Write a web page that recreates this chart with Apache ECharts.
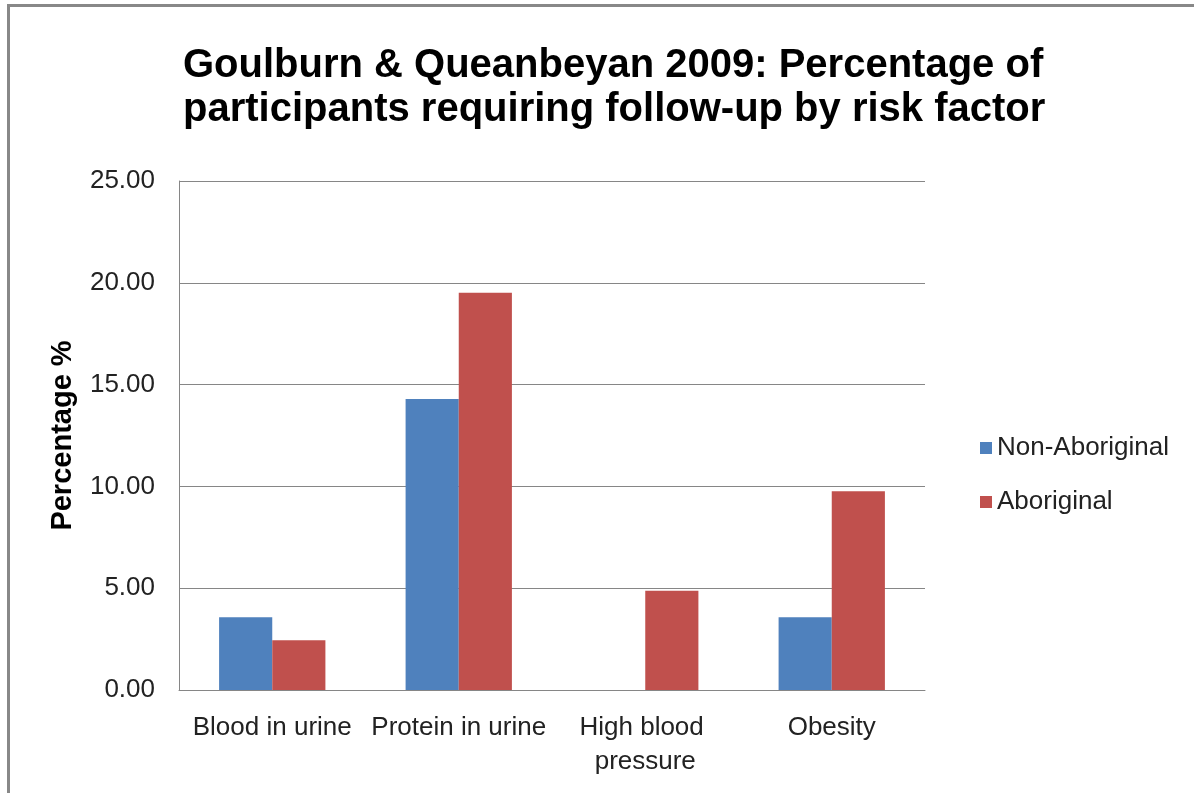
<!DOCTYPE html>
<html>
<head>
<meta charset="utf-8">
<script src="https://cdn.jsdelivr.net/npm/echarts@6/dist/echarts.min.js"></script>
<style>
  html, body { margin: 0; padding: 0; background: #fff; }
  #chart-container { width: 1194px; height: 793px; }
</style>
</head>
<body>
<div id="chart-container"></div>
<script>
// Chart data
const categories = ['Blood in urine', 'Protein in urine', 'High blood pressure', 'Obesity'];
const nonAboriginal = [3.57, 14.29, 0, 3.57];
const aboriginal = [2.44, 19.51, 4.88, 9.76];
const seriesNames = ['Non-Aboriginal', 'Aboriginal'];

const container = echarts.init(document.getElementById('chart-container'));

const font = '"Liberation Sans", Arial, sans-serif';

const cfg = {
    animation: false,
    textStyle: { fontFamily: font },
    title: {
        text: 'Goulburn & Queanbeyan 2009: Percentage of\nparticipants requiring follow-up by risk factor',
        left: 178,
        top: 39,
        textStyle: {
            fontFamily: font,
            fontWeight: 'bold',
            fontSize: 40,
            lineHeight: 44,
            color: '#000'
        }
    },
    // outer frame of the original picture
    graphic: [{
        type: 'rect',
        shape: { x: 8.5, y: 5.5, width: 1300, height: 900 },
        style: { fill: 'none', stroke: '#888', lineWidth: 3 },
        silent: true
    }],
    legend: {
        orient: 'vertical',
        left: 975,
        top: 430,
        itemWidth: 12,
        itemHeight: 12,
        itemGap: 28,
        icon: 'rect',
        textStyle: { fontSize: 26, color: '#222' },
        data: seriesNames
    },
    grid: {
        left: 179,
        right: 269,
        top: 181,
        bottom: 103
    },
    xAxis: {
        type: 'category',
        data: categories,
        axisTick: { show: false },
        axisLine: { lineStyle: { color: '#868686', width: 1 } },
        axisLabel: {
            fontSize: 26,
            color: '#222',
            margin: 21,
            lineHeight: 34,
            width: 184,
            overflow: 'break',
            interval: 0
        }
    },
    yAxis: {
        type: 'value',
        min: 0,
        max: 25,
        interval: 5,
        name: 'Percentage %',
        nameLocation: 'middle',
        nameRotate: 90,
        nameGap: 102,
        nameTextStyle: { fontSize: 29, fontWeight: 'bold', color: '#000' },
        axisLine: { show: true, lineStyle: { color: '#868686', width: 1 } },
        axisTick: { show: false },
        splitLine: { lineStyle: { color: '#868686', width: 1 } },
        axisLabel: {
            fontSize: 26,
            color: '#222',
            margin: 24,
            formatter: (v) => v.toFixed(2)
        }
    },
    series: [{
        name: seriesNames[0],
        type: 'bar',
        data: nonAboriginal,
        barGap: '0%',
        barCategoryGap: '43%',
        itemStyle: { color: '#4F81BD' }
    }, {
        name: seriesNames[1],
        type: 'bar',
        data: aboriginal,
        barGap: '0%',
        barCategoryGap: '43%',
        itemStyle: { color: '#C0504D' }
    }]
};

container.setOption(cfg);
</script>
</body>
</html>
